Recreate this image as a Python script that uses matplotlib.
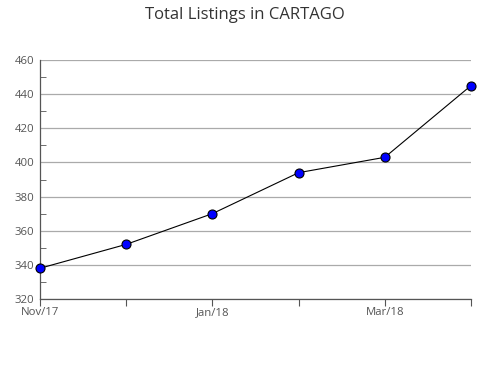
import matplotlib
matplotlib.use("Agg")
import matplotlib.pyplot as plt
from matplotlib.ticker import MultipleLocator

plt.rcParams["font.family"] = ["Open Sans", "DejaVu Sans"]

months = ["Nov/17", "Dec/17", "Jan/18", "Feb/18", "Mar/18", "Apr/18"]
listings = [338, 352, 370, 394, 403, 445]
tick_labels = ["Nov/17", "", "Jan/18", "", "Mar/18", ""]


def main() -> None:
    fig = plt.figure(figsize=(4.9, 3.8), dpi=100)
    ax = fig.add_axes([40 / 490, 1 - 299 / 380, 431 / 490, 239 / 380])

    x = list(range(len(months)))
    ax.plot(x, listings, color="black", linewidth=0.8, marker="o",
            markersize=6.5, markerfacecolor="#0000ff", markeredgecolor="black",
            markeredgewidth=0.8, zorder=3, clip_on=False)

    ax.set_xlim(0, len(months) - 1)
    ax.set_ylim(320, 460)
    ax.set_xticks(x)
    ax.set_xticklabels(tick_labels)
    ax.yaxis.set_major_locator(MultipleLocator(20))
    ax.yaxis.set_minor_locator(MultipleLocator(10))

    ax.grid(axis="y", which="major", color="#aaaaaa", linewidth=0.9)
    ax.set_axisbelow(True)
    for side in ("top", "right"):
        ax.spines[side].set_visible(False)
    for side in ("left", "bottom"):
        ax.spines[side].set_color("#555555")
        ax.spines[side].set_linewidth(0.9)

    ax.tick_params(axis="x", direction="out", length=5, color="#555555",
                   labelsize=8.2, labelcolor="#555555", pad=1)
    ax.tick_params(axis="y", which="major", length=0, labelsize=8.2,
                   labelcolor="#555555", pad=4)
    ax.tick_params(axis="y", which="minor", direction="in", length=4,
                   color="#555555")

    fig.text(0.5, 1 - 15 / 380, "Total Listings in CARTAGO", ha="center",
             va="center", fontsize=12, color="#333333")

    fig.savefig("out.png", dpi=100)
    plt.close(fig)


if __name__ == "__main__":
    main()
